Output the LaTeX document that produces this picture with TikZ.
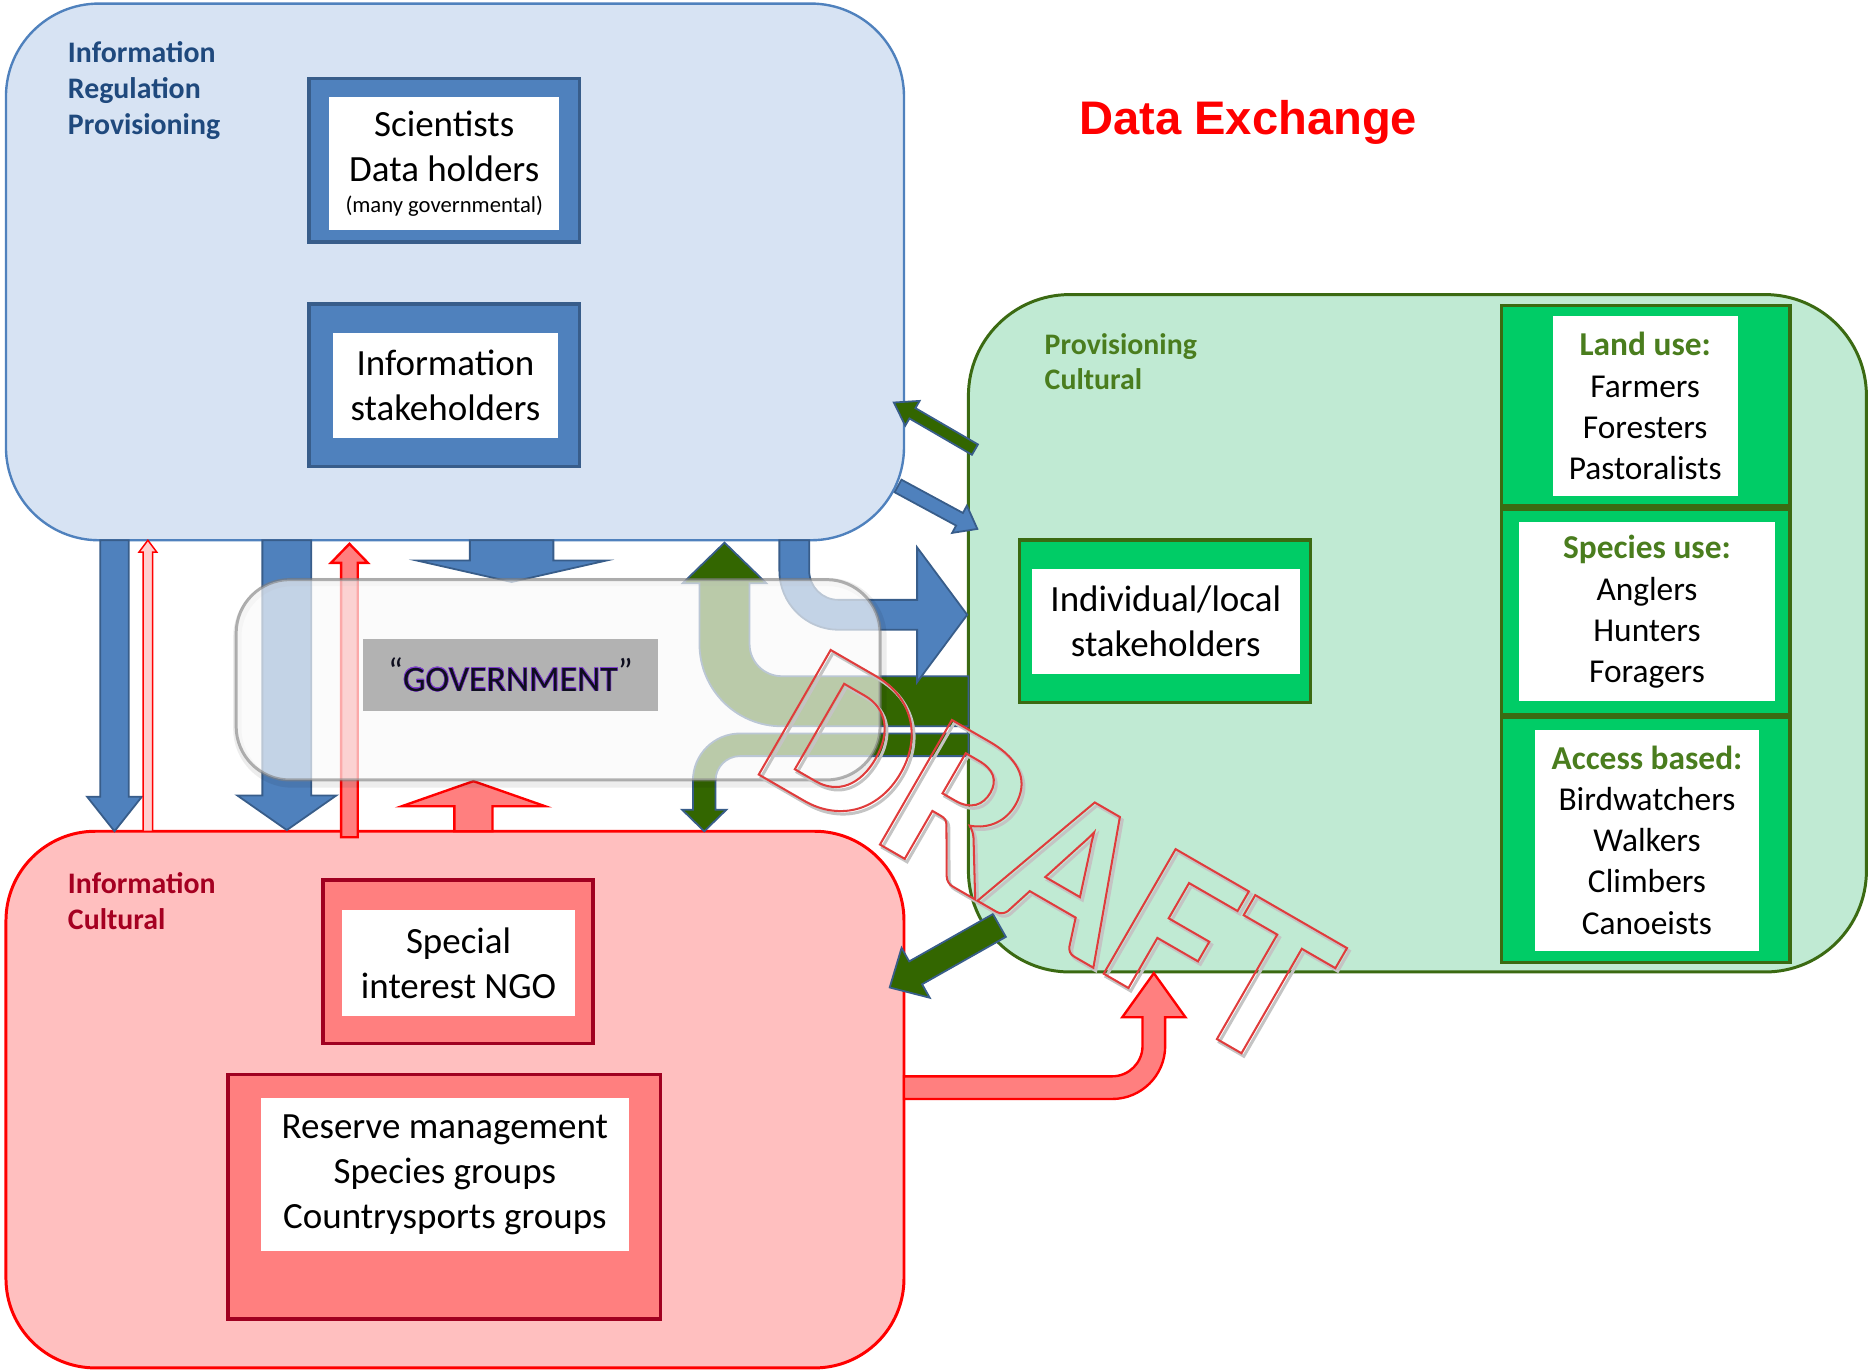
\documentclass[tikz,border=0pt]{standalone}
\usepackage{fontspec}
\setmainfont{Carlito}
\newfontfamily\titlefont{Liberation Sans}
\usepackage[copies]{contour}
\usetikzlibrary{calc}

\definecolor{bluebg}{HTML}{D7E3F3}
\definecolor{blueln}{HTML}{4F81BD}
\definecolor{bluedk}{HTML}{385D8A}
\definecolor{bluetx}{HTML}{1F497D}
\definecolor{greenbg}{HTML}{C0EAD3}
\definecolor{greenln}{HTML}{3B6A12}
\definecolor{greentx}{HTML}{4A7D1E}
\definecolor{greenbx}{HTML}{00CC66}
\definecolor{greenar}{HTML}{336600}
\definecolor{redbg}{HTML}{FFBFBF}
\definecolor{redln}{HTML}{FF0000}
\definecolor{redbx}{HTML}{FF7F7F}
\definecolor{reddk}{HTML}{A00020}
\definecolor{redtx}{HTML}{A50021}
\definecolor{redpale}{HTML}{FFD0D0}
\definecolor{govgray}{HTML}{B2B2B2}
\definecolor{govtxt}{HTML}{0E0E1E}
\definecolor{govglow}{HTML}{8040D0}
\definecolor{draftred}{HTML}{E03C3C}
\definecolor{draftshadow}{HTML}{C4C4C4}

\contourlength{0.45pt}

% hollow (stroked only) lettering through the PDF text rendering mode
\newcommand\hollowtext[2]{\special{pdf:literal direct 1 Tr #1 w}#2\special{pdf:literal direct 0 Tr}}

% box given by its top-left and bottom-right corners
\newcommand\boxat[7]{\node[#2,anchor=north west,minimum width={#5-#3},minimum height={#6-#4}] (#1) at (#3,#4) {#7};}

% straight block arrow: style, tail, tip, shaft half-width, head half-width, head length
\newcommand\blockarrow[6]{%
  \coordinate (hb) at ($(#3)!#6pt!(#2)$);
  \path[#1] ($(#2)!#4pt!90:(#3)$) -- ($(hb)!#4pt!90:(#3)$) -- ($(hb)!#5pt!90:(#3)$)
    -- (#3) -- ($(hb)!#5pt!-90:(#3)$) -- ($(hb)!#4pt!-90:(#3)$) -- ($(#2)!#4pt!-90:(#3)$) -- cycle;}

\begin{document}
\begin{tikzpicture}[x=1pt,y=-1pt,inner sep=0pt,outer sep=0pt,
  bluetile/.style={fill=blueln,draw=bluedk,line width=3pt},
  greentile/.style={fill=greenbx,draw=greenln,line width=3pt},
  redtile/.style={fill=redbx,draw=reddk,line width=3pt},
  whitetile/.style={fill=white,align=center},
  bodytext/.style={font=\fontsize{31}{38}\selectfont},
  sidetext/.style={font=\fontsize{28}{34.5}\selectfont},
  lbl/.style={anchor=base west,font=\bfseries\fontsize{25}{30}\selectfont},
  bluearrow/.style={fill=blueln,draw=bluedk,line width=1.5pt,line join=miter},
  greenarrow/.style={fill=greenar,draw=bluedk,line width=1.5pt,line join=miter},
  redarrow/.style={fill=redbx,draw=redln,line width=2pt,line join=miter},
  thinred/.style={fill=redpale,draw=redln,line width=1.2pt,line join=miter},
  draftstyle/.style={rotate=-30,font=\bfseries\fontsize{186}{186}\selectfont}]

\fill[white] (0,0) rectangle (1568,1150.4);
\useasboundingbox (0,0) rectangle (1568,1150.4);

% ---------- the three stakeholder regions ----------
\boxat{infobox}{draw=blueln,fill=bluebg,line width=2pt,rounded corners=78pt}{5}{3}{758}{453}{}
\boxat{provbox}{draw=greenln,fill=greenbg,line width=2.5pt,rounded corners=85pt}{812}{247}{1565}{815}{}
\boxat{culbox}{draw=redln,fill=redbg,line width=2.5pt,rounded corners=75pt}{5}{697}{758}{1147}{}

% region labels
\node[lbl,text=bluetx] (infoA) at (57,52) {Information};
\node[lbl,text=bluetx] (infoB) at (57,83) {Regulation};
\node[lbl,text=bluetx] (infoC) at (57,113) {Provisioning};
\node[lbl,text=greentx] (provA) at (876,297) {Provisioning};
\node[lbl,text=greentx] (provB) at (876,327) {Cultural};
\node[lbl,text=redtx] (culA) at (57,749) {Information};
\node[lbl,text=redtx] (culB) at (57,779) {Cultural};

% title
\node[anchor=base west,text=redln,font={\titlefont\bfseries\fontsize{39.5}{47}\selectfont}] (title) at (905,113) {Data Exchange};

% ---------- information side ----------
\boxat{sci}{bluetile}{259}{66}{486}{203}{}
\boxat{scitxt}{whitetile,bodytext}{276}{81}{469}{193}{Scientists\\Data holders\\[-12pt]{\fontsize{19}{22}\selectfont(many governmental)}}
\boxat{ist}{bluetile}{259}{255}{486}{391}{}
\boxat{isttxt}{whitetile,bodytext}{279}{279}{468}{367}{Information\\stakeholders}

% ---------- provisioning / cultural side ----------
\boxat{ind}{greentile}{855}{453}{1099}{589}{}
\boxat{indtxt}{whitetile,bodytext}{865}{477}{1090}{565}{Individual/local\\stakeholders}
\boxat{land}{greentile}{1259}{256}{1501}{424}{}
\boxat{landtxt}{whitetile,sidetext}{1302}{265}{1457}{416}{\textbf{\textcolor{greentx}{Land use:}}\\Farmers\\Foresters\\Pastoralists}
\boxat{spec}{greentile}{1259}{427}{1501}{599}{}
\boxat{spectxt}{whitetile,sidetext}{1274}{438}{1488}{588}{\textbf{\textcolor{greentx}{Species use:}}\\Anglers\\Hunters\\Foragers}
\boxat{acc}{greentile}{1259}{601}{1501}{807}{}
\boxat{acctxt}{whitetile,sidetext}{1287}{612}{1475}{797}{\textbf{\textcolor{greentx}{Access based:}}\\Birdwatchers\\Walkers\\Climbers\\Canoeists}

% ---------- cultural / NGO side ----------
\boxat{ngo}{redtile}{271}{738}{497}{875}{}
\boxat{ngotxt}{whitetile,bodytext}{287}{763}{482}{852}{Special\\interest NGO}
\boxat{res}{redtile}{191}{901}{554}{1106}{}
\boxat{restxt}{whitetile,bodytext}{219}{921}{527}{1049}{Reserve management\\Species groups\\Countrysports groups}

% ---------- arrow end points ----------
\coordinate (a1s) at (96,453);    \coordinate (a1e) at (96,697);
\coordinate (a2s) at (124,697);   \coordinate (a2e) at (124,453);
\coordinate (a3s) at (240.5,453); \coordinate (a3e) at (240.5,696);
\coordinate (a4s) at (293,702);   \coordinate (a4e) at (293,456);
\coordinate (a5s) at (429,453);   \coordinate (a5e) at (429,488);
\coordinate (a6s) at (397,697);   \coordinate (a6e) at (397,655);
\coordinate (a10s) at (817.5,377);\coordinate (a10e) at (749.5,337.5);
\coordinate (a11s) at (753,407.5);\coordinate (a11e) at (819.5,443.5);
\coordinate (a12s) at (838,776);  \coordinate (a12e) at (746,828);

% straight block arrows
\blockarrow{bluearrow}{a1s}{a1e}{12}{23}{29}
\blockarrow{thinred}{a2s}{a2e}{4}{7.5}{10}
\blockarrow{bluearrow}{a3s}{a3e}{20.5}{41.5}{29}
\blockarrow{redarrow}{a4s}{a4e}{7}{15.5}{16}
\blockarrow{bluearrow}{a5s}{a5e}{35}{79.5}{18}
\blockarrow{redarrow}{a6s}{a6e}{16}{60}{21}
\blockarrow{greenarrow}{a10s}{a10e}{5}{12}{18}
\blockarrow{bluearrow}{a11s}{a11e}{6}{13}{17}
\blockarrow{greenarrow}{a12s}{a12e}{11}{24}{25}

% bent arrow: provisioning side up into the information region
\path[greenarrow] (607.5,455) -- (642.5,489) -- (628.5,489) -- (628.5,540)
  arc[start angle=180,end angle=90,radius=27] -- (812,567) -- (812,609) -- (655.5,609)
  arc[start angle=90,end angle=180,radius=69] -- (586.5,489) -- (572.5,489) -- cycle;
% bent arrow: provisioning side down into the cultural region
\path[greenarrow] (812,615) -- (620.5,615) arc[start angle=270,end angle=180,radius=39.5]
  -- (581,679) -- (572,679) -- (590.5,697) -- (609,679) -- (600,679) -- (600,654.5)
  arc[start angle=180,end angle=270,radius=20.5] -- (812,634) -- cycle;
% bent arrow: information region into the provisioning side
\path[bluearrow] (653.5,453) -- (653.5,478.5) arc[start angle=180,end angle=90,radius=49.5]
  -- (769,528) -- (769,572) -- (811,515.5) -- (769,459) -- (769,503) -- (703,503)
  arc[start angle=90,end angle=180,radius=24.5] -- (678.5,453) -- cycle;
% bent arrow: cultural region up into the provisioning side
\path[redarrow] (758,902.5) -- (932.5,902.5) arc[start angle=90,end angle=0,radius=25.5]
  -- (958,853) -- (941,853) -- (967.5,816) -- (994,853) -- (977,853) -- (977,877)
  arc[start angle=0,end angle=90,radius=44.5] -- (758,921.5) -- cycle;

% ---------- government layer ----------
\draw[black,line width=7pt,opacity=0.07,rounded corners=46pt] (199,488) rectangle (740,657);
\boxat{gov}{fill=white!98!black,fill opacity=0.68,draw=black!50,draw opacity=0.6,line width=2.5pt,rounded corners=45pt}{198}{486}{738}{654}{}
\boxat{govlabel}{fill=govgray,font=\fontsize{30}{36}\selectfont}{304}{536}{552}{596}
  {\color{govtxt}\raisebox{6pt}{“}\contour{govglow}{GOVERNMENT}\raisebox{6pt}{”}}

% ---------- watermark ----------
\node[draftstyle] (draftshade) at (881,722.5) {\color{draftshadow}\hollowtext{2.5}{DRAFT}};
\node[draftstyle] (draft) at (879,720) {\color{draftred}\hollowtext{1.7}{DRAFT}};

\end{tikzpicture}
\end{document}
